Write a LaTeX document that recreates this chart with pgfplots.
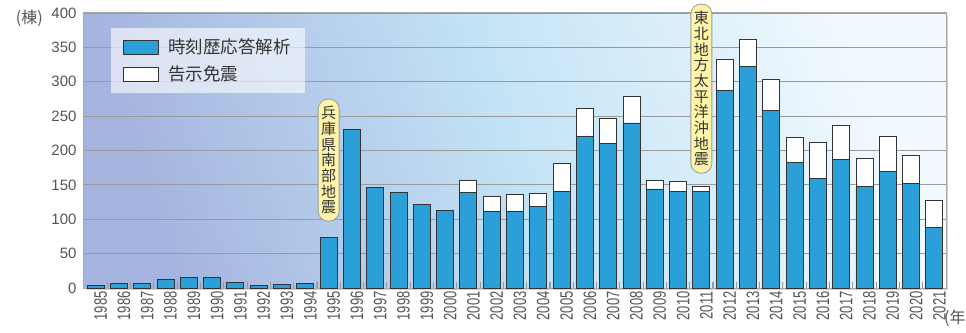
\documentclass[border=0pt]{standalone}
\usepackage{pgfplots}
\pgfplotsset{compat=1.18}
\usepackage{pgfplotstable}
\usetikzlibrary{shadows,calc}
\usepackage{fontspec}
\setmainfont{Liberation Sans}
\newfontfamily\cjk{Noto Sans CJK JP}
\newfontfamily\yearfont[FakeStretch=0.72]{Liberation Sans}

\definecolor{barblue}{HTML}{2A9FD8}
\definecolor{barborder}{HTML}{333333}
\definecolor{tickgray}{HTML}{555555}
\definecolor{gridgray}{HTML}{9A9A9A}
\definecolor{bordergray}{HTML}{A8A8A8}
\definecolor{minorgray}{HTML}{999999}
\definecolor{annofill}{HTML}{FFF4A8}
\definecolor{annodraw}{HTML}{9A9A9A}
\definecolor{bgA}{HTML}{A6B5DF}
\definecolor{bgB}{HTML}{C3E3F6}
\definecolor{bgC}{HTML}{F2F9FE}
\pgfdeclarehorizontalshading{bgshade}{100bp}{color(0bp)=(bgA); color(25bp)=(bgA); color(50bp)=(bgB); color(75bp)=(bgC); color(100bp)=(bgC)}

\pgfplotstableread{
year blue white
1985 3 0
1986 7 0
1987 7 0
1988 12 0
1989 16 0
1990 16 0
1991 8 0
1992 4 0
1993 5 0
1994 7 0
1995 73 0
1996 230 0
1997 146 0
1998 139 0
1999 121 0
2000 113 0
2001 139 17
2002 112 21
2003 111 25
2004 118 19
2005 141 40
2006 221 40
2007 210 37
2008 240 39
2009 144 13
2010 140 15
2011 141 7
2012 287 46
2013 322 40
2014 258 45
2015 183 36
2016 159 53
2017 187 50
2018 147 41
2019 169 51
2020 152 41
2021 88 39
}\datatable

\begin{document}
\begin{tikzpicture}
\useasboundingbox (-84pt,-44pt) rectangle (882pt,288pt);
\begin{axis}[
  at={(0,0)}, anchor=south west, name=ax,
  scale only axis, width=862pt, height=275pt,
  ybar stacked, bar width=17pt,
  xmin=-0.5, xmax=36.5, ymin=0, ymax=400,
  clip=false,
  axis background/.style={shade, shading=bgshade, shading angle=18,
     drop shadow={shadow xshift=2pt, shadow yshift=-2pt, opacity=0.18, fill=black}},
  ytick={0,50,...,400},
  xtick={0,...,36},
  xticklabels={1985,1986,1987,1988,1989,1990,1991,1992,1993,1994,1995,1996,1997,1998,1999,2000,2001,2002,2003,2004,2005,2006,2007,2008,2009,2010,2011,2012,2013,2014,2015,2016,2017,2018,2019,2020,2021},
  extra x ticks={0.5,1.5,...,35.5},
  extra x tick labels={},
  extra x tick style={grid=none, major tick length=6pt, tick align=inside,
     tick style={draw=minorgray, line width=1.1pt}},
  xtick pos=left,
  major tick length=0pt,
  tick style={draw=minorgray, line width=1.1pt},
  ytick style={draw=none},
  ymajorgrids, grid style={gridgray, line width=0.9pt},
  axis line style={bordergray, line width=1pt},
  /pgf/number format/assume math mode=true,
  yticklabel style={font=\fontsize{15}{15}\selectfont, text=tickgray, xshift=-4pt},
  xticklabel style={font=\yearfont\fontsize{18}{18}\selectfont, text=tickgray, rotate=90, anchor=east, xshift=0pt, yshift=-5pt},
  legend style={at={(0.0313,0.947)}, anchor=north west, fill=white, fill opacity=0.6, text opacity=1, draw=none,
     font=\cjk\fontsize{17.5}{17.5}\selectfont, text=barborder, inner xsep=12pt, inner ysep=9pt, row sep=7pt},
  legend cell align=left,
  legend image code/.code={\draw[#1, fill opacity=1, draw=barborder, line width=0.9pt] (0pt,-7pt) rectangle (35pt,7pt); \path (42pt,0pt);},
]
\addplot[fill=barblue, draw=barborder, line width=0.9pt] table[x expr=\coordindex, y=blue] {\datatable};
\addplot[fill=white, draw=barborder, line width=0.9pt] table[x expr=\coordindex, y=white] {\datatable};
\legend{時刻歴応答解析, 告示免震}
\tikzset{anno/.style={draw=annodraw, fill=annofill, line width=0.8pt, rounded corners=10pt, inner xsep=3pt, inner ysep=7pt, align=center, text=barborder, font=\cjk\fontsize{15}{15.7}\selectfont}}
\node[anno] at (axis cs:10,186) {兵\\庫\\県\\南\\部\\地\\震};
\node[anno] at (axis cs:26,290) {東\\北\\地\\方\\太\\平\\洋\\沖\\地\\震};
\end{axis}
\node[anchor=east, text=tickgray, font=\cjk\fontsize{16}{16}\selectfont, inner sep=0pt] at ($(ax.north west)+(-41pt,-5pt)$) {(棟)};
\node[anchor=west, text=tickgray, font=\cjk\fontsize{16}{16}\selectfont, inner sep=0pt] at ($(ax.south east)+(-2pt,-30pt)$) {(年)};
\end{tikzpicture}
\end{document}
